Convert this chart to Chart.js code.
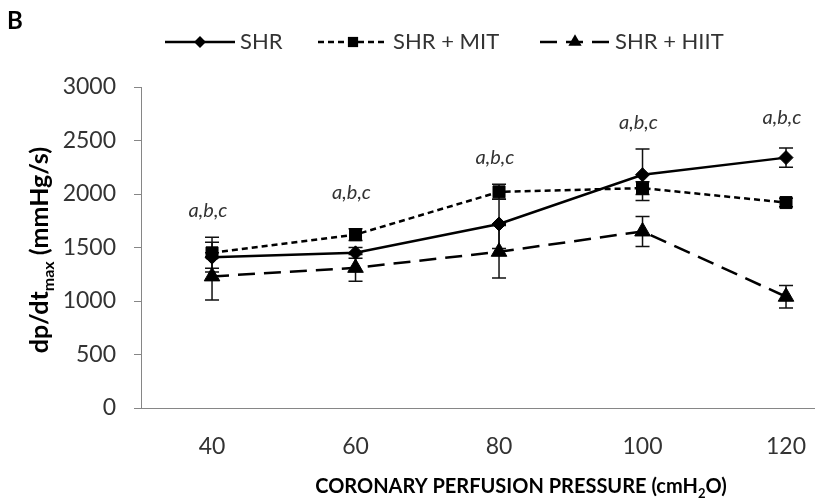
<!DOCTYPE html>
<html>
<head>
<meta charset="utf-8">
<script src="https://cdn.jsdelivr.net/npm/chart.js@4.4.1/dist/chart.umd.min.js"></script>
<style>
  html, body { margin: 0; padding: 0; background: #fff; }
</style>
</head>
<body>
<canvas id="chart" width="824" height="500"></canvas>
<script>
// Valores: dp/dt max (mmHg/s) por pressão de perfusão
const pressures = [40, 60, 80, 100, 120];
const shr = [1410, 1450, 1720, 2180, 2340];
const shrErr = [140, 50, 230, 240, 90];
const mit = [1450, 1620, 2020, 2055, 1920];
const mitErr = [145, 55, 70, 60, 40];
const hiit = [1230, 1310, 1460, 1650, 1040];
const hiitErr = [220, 125, 245, 140, 105];
const yTicks = [0, 500, 1000, 1500, 2000, 2500, 3000];
const seriesNames = ["SHR", "SHR + MIT", "SHR + HIIT"];
const sigLabel = "a,b,c";
const sigLevel = [1850, 2015, 2345, 2665, 2710];

const FONT = "Lato";
const AXIS_COLOR = "#868686";

function toPoints(values) {
  return pressures.map((p, i) => ({ x: p, y: values[i] }));
}

// Texto com subscrito, centrado em (x, y)
function drawRich(ctx, parts, x, y, size) {
  const fontFor = (p) => "bold " + (p.sub ? Math.round(size * 0.65) : size) + "px " + FONT;
  let total = 0;
  parts.forEach((p) => {
    ctx.font = fontFor(p);
    total += ctx.measureText(p.t).width;
  });
  let cx = x - total / 2;
  ctx.textAlign = "left";
  ctx.textBaseline = "alphabetic";
  parts.forEach((p) => {
    ctx.font = fontFor(p);
    ctx.fillText(p.t, cx, y + (p.sub ? size * 0.25 : 0));
    cx += ctx.measureText(p.t).width;
  });
}

function drawMarker(ctx, style, r, x, y) {
  ctx.beginPath();
  if (style === "rectRot") {
    ctx.moveTo(x - r, y);
    ctx.lineTo(x, y - r);
    ctx.lineTo(x + r, y);
    ctx.lineTo(x, y + r);
  } else if (style === "rect") {
    const s = r * Math.SQRT1_2;
    ctx.rect(x - s, y - s, 2 * s, 2 * s);
  } else {
    ctx.moveTo(x, y - r);
    ctx.lineTo(x + r * 0.866, y + r / 2);
    ctx.lineTo(x - r * 0.866, y + r / 2);
  }
  ctx.closePath();
  ctx.fill();
}

// Barras de erro
const errorBars = {
  id: "errorBars",
  beforeDatasetsDraw(chart) {
    const { ctx, scales: { x, y } } = chart;
    ctx.save();
    ctx.strokeStyle = "#111";
    ctx.lineWidth = 1.5;
    chart.data.datasets.forEach((ds) => {
      ds.data.forEach((p, i) => {
        const px = x.getPixelForValue(p.x);
        const top = y.getPixelForValue(p.y + ds.errors[i]);
        const bot = y.getPixelForValue(p.y - ds.errors[i]);
        ctx.beginPath();
        ctx.moveTo(px, top); ctx.lineTo(px, bot);
        ctx.moveTo(px - 7, top); ctx.lineTo(px + 7, top);
        ctx.moveTo(px - 7, bot); ctx.lineTo(px + 7, bot);
        ctx.stroke();
      });
    });
    ctx.restore();
  }
};

// Legenda, títulos dos eixos e anotações
const extras = {
  id: "extras",
  afterDraw(chart) {
    const { ctx, scales: { x, y } } = chart;
    ctx.save();
    ctx.fillStyle = "#000";

    // letra do painel
    ctx.font = "bold 24px " + FONT;
    ctx.textAlign = "left";
    ctx.textBaseline = "top";
    ctx.fillText("B", 7, 9);

    // legenda
    const legX = [165, 318, 540];
    const legY = 42;
    chart.data.datasets.forEach((ds, i) => {
      ctx.strokeStyle = "#000";
      ctx.lineWidth = ds.borderWidth;
      ctx.setLineDash(ds.borderDash || []);
      ctx.beginPath();
      ctx.moveTo(legX[i], legY);
      ctx.lineTo(legX[i] + 70, legY);
      ctx.stroke();
      ctx.setLineDash([]);
      ctx.fillStyle = "#000";
      drawMarker(ctx, ds.pointStyle, ds.pointRadius * 0.85, legX[i] + 35, legY);
      ctx.fillStyle = "#333";
      ctx.font = "22px " + FONT;
      ctx.textAlign = "left";
      ctx.textBaseline = "middle";
      ctx.fillText(ds.label, legX[i] + 75, legY);
    });

    // anotações a,b,c
    ctx.fillStyle = "#333";
    ctx.font = "italic 20px " + FONT;
    ctx.textAlign = "center";
    ctx.textBaseline = "middle";
    pressures.forEach((p, i) => {
      ctx.fillText(sigLabel, x.getPixelForValue(p) - 4, y.getPixelForValue(sigLevel[i]));
    });

    // título do eixo x
    ctx.fillStyle = "#000";
    drawRich(ctx, [
      { t: "CORONARY PERFUSION PRESSURE (cmH" },
      { t: "2", sub: true },
      { t: "O)" }
    ], 521, 493, 20);

    // título do eixo y
    ctx.translate(48, 250);
    ctx.rotate(-Math.PI / 2);
    drawRich(ctx, [
      { t: "dp/dt" },
      { t: "max", sub: true },
      { t: " (mmHg/s)" }
    ], 0, 0, 25);
    ctx.restore();
  }
};

new Chart(document.getElementById("chart"), {
  type: "line",
  data: {
    datasets: [
      {
        label: seriesNames[0],
        data: toPoints(shr),
        errors: shrErr,
        borderColor: "#000",
        borderWidth: 2.5,
        pointStyle: "rectRot",
        pointRadius: 7,
        pointBackgroundColor: "#000",
        pointBorderColor: "#000",
        pointBorderWidth: 1
      },
      {
        label: seriesNames[1],
        data: toPoints(mit),
        errors: mitErr,
        borderColor: "#000",
        borderWidth: 2.5,
        borderDash: [6, 4],
        pointStyle: "rect",
        pointRadius: 8.5,
        pointBackgroundColor: "#000",
        pointBorderColor: "#000",
        pointBorderWidth: 1
      },
      {
        label: seriesNames[2],
        data: toPoints(hiit),
        errors: hiitErr,
        borderColor: "#000",
        borderWidth: 2.5,
        borderDash: [17, 9],
        pointStyle: "triangle",
        pointRadius: 9,
        pointBackgroundColor: "#000",
        pointBorderColor: "#000",
        pointBorderWidth: 1
      }
    ]
  },
  options: {
    responsive: false,
    animation: false,
    layout: { padding: { top: 87, right: 0, left: 0, bottom: 0 } },
    plugins: {
      legend: { display: false },
      tooltip: { enabled: false }
    },
    scales: {
      x: {
        type: "linear",
        min: 30.1,
        max: 123.9,
        afterBuildTicks: (s) => { s.ticks = pressures.map((v) => ({ value: v })); },
        afterFit: (s) => { s.height = 92; },
        grid: { display: false },
        border: { display: true, color: AXIS_COLOR, width: 1 },
        ticks: { color: "#333", padding: 17, font: { family: FONT, size: 23 }, callback: (v) => String(v) }
      },
      y: {
        min: 0,
        max: 3000,
        afterBuildTicks: (s) => { s.ticks = yTicks.map((v) => ({ value: v })); },
        afterFit: (s) => { s.width = 141; },
        grid: { drawOnChartArea: false, drawTicks: true, tickLength: 7, color: AXIS_COLOR },
        border: { display: true, color: AXIS_COLOR, width: 1 },
        ticks: { color: "#333", padding: 18, font: { family: FONT, size: 23 }, callback: (v) => String(v) }
      }
    }
  },
  plugins: [errorBars, extras]
});
</script>
</body>
</html>
